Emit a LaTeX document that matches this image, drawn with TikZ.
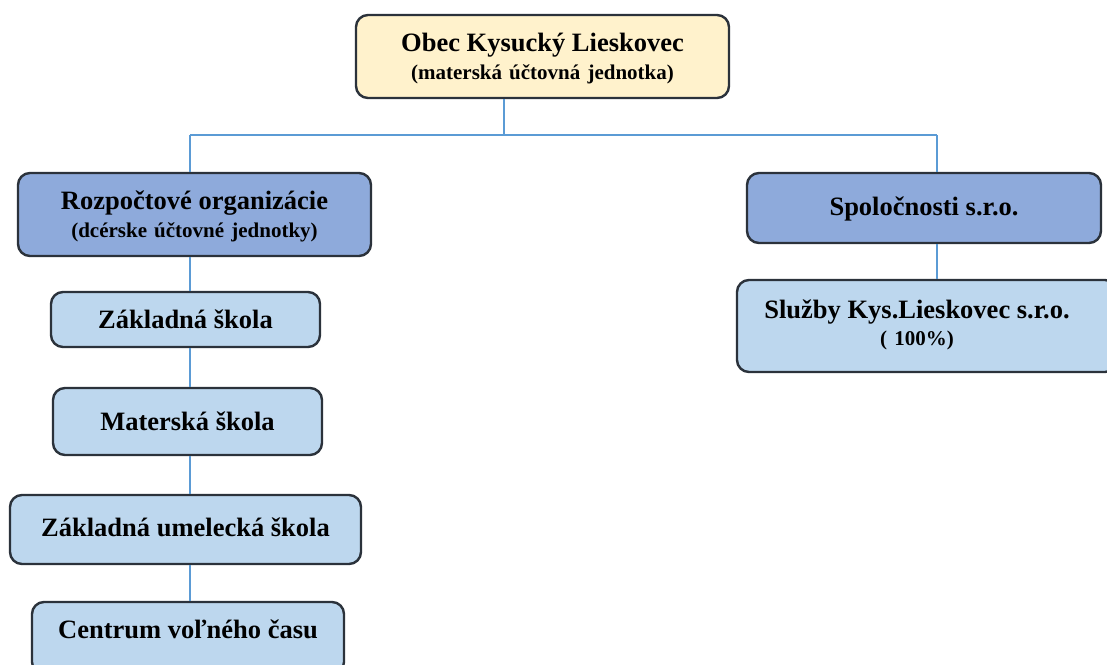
\documentclass[tikz,border=0pt]{standalone}
\usepackage{fontspec}
\setmainfont{Liberation Serif}
\definecolor{bordercol}{HTML}{2B323B}
\definecolor{linkcol}{HTML}{5B9BD5}
\definecolor{topfill}{HTML}{FFF2CC}
\definecolor{midfill}{HTML}{8EAADB}
\definecolor{lowfill}{HTML}{BDD7EE}
\newcommand{\bigf}{\fontsize{26.5}{28}\selectfont\bfseries}
\newcommand{\smallf}{\fontsize{21}{28}\selectfont\bfseries\spaceskip=0.34em plus 0.1em}
\tikzset{
  orgbox/.style={draw=bordercol, line width=2.4pt, rounded corners=12pt,
    inner sep=0pt, align=center, text=black, font=\fontsize{21}{28}\selectfont\bfseries},
  topbox/.style={orgbox, fill=topfill},
  midbox/.style={orgbox, fill=midfill},
  lowbox/.style={orgbox, fill=lowfill},
  link/.style={draw=linkcol, line width=1.2pt}
}
\begin{document}
\begin{tikzpicture}[x=1pt,y=-1pt]
\useasboundingbox (0,0) rectangle (1107,664);
\clip (0,0) rectangle (1107,664);
\fill[white] (0,0) rectangle (1107,664);

\node[topbox, minimum width=373pt, minimum height=83pt, text depth=0pt] (obec) at (542.5,56.5)
  {{\bigf Obec Kysucký Lieskovec}\\{\smallf (materská účtovná jednotka)}};
\node[midbox, minimum width=353pt, minimum height=83pt, text depth=0pt] (rozp) at (194.5,214.5)
  {{\bigf Rozpočtové organizácie}\\{\smallf (dcérske účtovné jednotky)}};
\node[midbox, minimum width=354pt, minimum height=70pt, text depth=4pt] (spol) at (924,208)
  {\bigf Spoločnosti s.r.o.};
\node[lowbox, minimum width=269pt, minimum height=55pt] (zs) at (185.5,319.5)
  {\bigf Základná škola};
\node[lowbox, minimum width=269pt, minimum height=67pt] (ms) at (187.5,421.5)
  {\bigf Materská škola};
\node[lowbox, minimum width=351pt, minimum height=69pt, text depth=4pt] (zus) at (185.5,529.5)
  {\bigf Základná umelecká škola};
\node[lowbox, minimum width=312pt, minimum height=72pt, text depth=18pt] (cvc) at (188,638)
  {\bigf Centrum voľného času};
\node[lowbox, minimum width=380pt, minimum height=92pt] (sluzby) at (927,326) {};
\node[align=center, inner sep=0pt, font=\fontsize{21}{27}\selectfont\bfseries] (sluzbytext) at (917,325)
  {{\bigf Služby Kys.Lieskovec s.r.o.}\\{\smallf ( 100\%)}};

\coordinate (hub) at (504,135);
\coordinate (lefttop) at (190,135);
\coordinate (righttop) at (937,135);
\coordinate (leftx) at (190,0);
\coordinate (rightx) at (937,0);

\path[link] (obec.south -| hub) -- (hub);
\path[link] (lefttop) -- (righttop);
\path[link] (lefttop) -- (rozp.north -| lefttop);
\path[link] (righttop) -- (spol.north -| righttop);
\path[link] (rozp.south -| leftx) -- (zs.north -| leftx);
\path[link] (zs.south -| leftx) -- (ms.north -| leftx);
\path[link] (ms.south -| leftx) -- (zus.north -| leftx);
\path[link] (zus.south -| leftx) -- (cvc.north -| leftx);
\path[link] (spol.south -| rightx) -- (sluzby.north -| rightx);
\end{tikzpicture}
\end{document}
